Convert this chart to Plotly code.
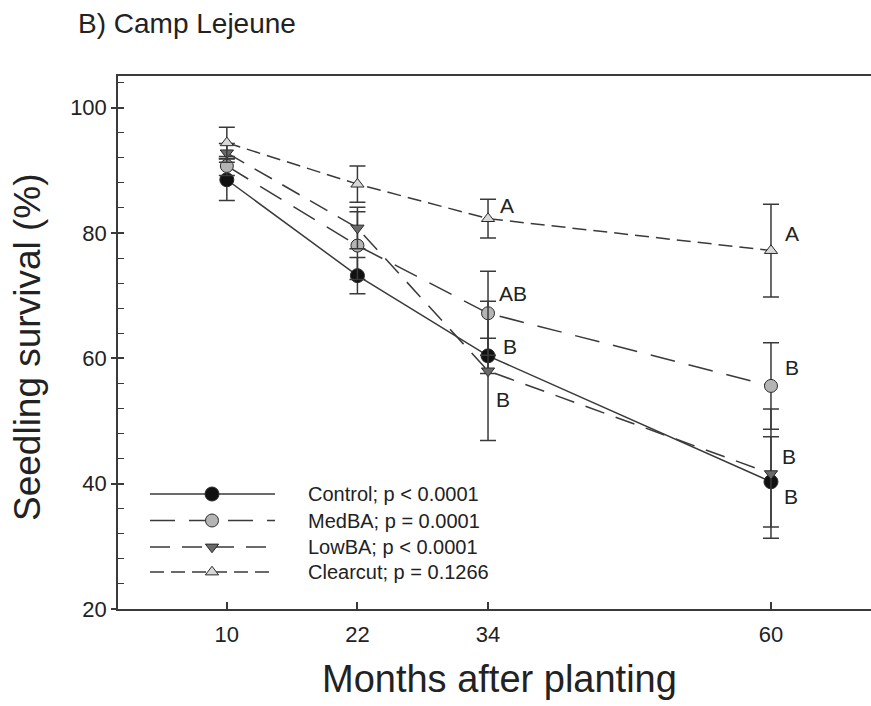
import plotly.graph_objects as go

# Seedling survival (%) by months after planting, per overstory treatment
months = [10, 22, 34, 60]

control = [88.5, 73.2, 60.4, 40.3]
control_se = [3.3, 2.9, 2.8, 7.2]

medba = [90.7, 78.0, 67.2, 55.6]
medba_se = [1.5, 5.4, 6.7, 6.9]

lowba = [92.8, 80.8, 58.0, 41.6]
lowba_se = [1.5, 3.3, 11.1, 10.3]

clearcut = [94.4, 87.8, 82.3, 77.2]
clearcut_se = [2.5, 2.9, 3.1, 7.4]

series_names = ["Control; p < 0.0001", "MedBA; p = 0.0001",
                "LowBA; p < 0.0001", "Clearcut; p = 0.1266"]

# Mean-separation letters: (month, survival level of label, letter)
letters_34 = [(34.9, 84.4, "A"), (34.87, 70.4, "AB"), (35.2, 61.9, "B"), (34.55, 53.4, "B")]
letters_60 = [(61.07, 80.0, "A"), (61.13, 58.5, "B"), (60.83, 44.4, "B"), (60.98, 37.9, "B")]

FONT = "Liberation Sans, Arial, sans-serif"
INK = "#3a3a3a"

# plot area in pixels (used to place paper-referenced titles)
PX_L, PX_R, PX_T, PX_B = 118, 871, 76, 609


def paper_x(px):
    return (px - PX_L) / (PX_R - PX_L)


def paper_y(py):
    return (PX_B - py) / (PX_B - PX_T)


styles = [
    dict(symbol="circle", size=14, fill="#111111", dash="solid"),
    dict(symbol="circle", size=13, fill="#b4b4b4", dash="25px,14px"),
    dict(symbol="triangle-down", size=11.5, fill="#6a6a6a", dash="20px,12px"),
    dict(symbol="triangle-up", size=11.5, fill="#d8d8d8", dash="14px,7px"),
]
values = [control, medba, lowba, clearcut]
errors = [control_se, medba_se, lowba_se, clearcut_se]

fig = go.Figure()

for name, vals, errs, st in zip(series_names, values, errors, styles):
    fig.add_trace(go.Scatter(
        x=months, y=vals, name=name, mode="lines+markers",
        line=dict(color=INK, width=1.5, dash=st["dash"]),
        marker=dict(symbol=st["symbol"], size=st["size"], color=st["fill"],
                    line=dict(color="#2a2a2a", width=1)),
        error_y=dict(type="data", array=errs, visible=True,
                     color=INK, thickness=1.5, width=8),
        cliponaxis=False,
    ))

# helper trace so the overlay tick axis is rendered
fig.add_trace(go.Scatter(x=[None], y=[None], xaxis="x", yaxis="y2",
                         showlegend=False, hoverinfo="skip"))

# Legend drawn on a pixel-unit overlay (x2 / y3)
leg_rows = [494, 520.5, 547, 572]
leg_x0, leg_xm, leg_x1, leg_text_x = 150, 212, 275, 306
for name, st, ry in zip(series_names, styles, leg_rows):
    fig.add_trace(go.Scatter(
        x=[leg_x0, leg_x1], y=[ry, ry], mode="lines", xaxis="x2", yaxis="y3",
        line=dict(color=INK, width=1.5, dash=st["dash"]),
        showlegend=False, hoverinfo="skip"))
    fig.add_trace(go.Scatter(
        x=[leg_xm], y=[ry], mode="markers", xaxis="x2", yaxis="y3",
        marker=dict(symbol=st["symbol"], size=st["size"], color=st["fill"],
                    line=dict(color="#2a2a2a", width=1)),
        showlegend=False, hoverinfo="skip"))

annotations = []
for name, ry in zip(series_names, leg_rows):
    annotations.append(dict(x=leg_text_x, y=ry, xref="x2", yref="y3", text=name,
                            xanchor="left", yanchor="middle", showarrow=False,
                            font=dict(family=FONT, size=20, color="#222")))

for mx, lv, txt in letters_34 + letters_60:
    annotations.append(dict(x=mx, y=lv, xref="x", yref="y", text=txt,
                            xanchor="left", yanchor="middle", showarrow=False,
                            font=dict(family=FONT, size=21, color="#222")))

# Panel title and axis titles
annotations.append(dict(x=paper_x(76), y=paper_y(24), xref="paper", yref="paper",
                        text="B) Camp Lejeune", xanchor="left", yanchor="middle",
                        showarrow=False, font=dict(family=FONT, size=28, color="#222")))
annotations.append(dict(x=paper_x(499), y=paper_y(679), xref="paper", yref="paper",
                        text="Months after planting", xanchor="center", yanchor="middle",
                        showarrow=False, font=dict(family=FONT, size=38, color="#222")))
annotations.append(dict(x=paper_x(27), y=paper_y(347), xref="paper", yref="paper",
                        text="Seedling survival (%)", textangle=-90,
                        xanchor="center", yanchor="middle", showarrow=False,
                        font=dict(family=FONT, size=37, color="#222")))

fig.update_layout(
    width=871, height=706,
    margin=dict(l=PX_L, r=871 - PX_R, t=PX_T, b=706 - PX_B),
    plot_bgcolor="white", paper_bgcolor="white",
    showlegend=False,
    font=dict(family=FONT, color="#222"),
    annotations=annotations,
    xaxis=dict(range=[0, 69.19], tickvals=months, ticks="inside", ticklen=7,
               tickwidth=1.5, tickcolor=INK, showline=True, linecolor=INK,
               linewidth=1.5, mirror=True, showgrid=False, zeroline=False,
               tickfont=dict(family=FONT, size=22, color="#222"),
               ticklabelstandoff=5),
    yaxis=dict(range=[20, 105.06], tickvals=[20, 40, 60, 80, 100], ticks="outside",
               ticklen=5, tickwidth=1.5, tickcolor=INK, showline=True,
               linecolor=INK, linewidth=1.5, showgrid=False, zeroline=False,
               tickfont=dict(family=FONT, size=22, color="#222"),
               minor=dict(dtick=4, tick0=20, ticks="inside", ticklen=6,
                          tickwidth=1.2, tickcolor=INK, showgrid=False)),
    yaxis2=dict(overlaying="y", range=[20, 105.06], tickvals=[20, 40, 60, 80, 100],
                ticks="inside", ticklen=6, tickwidth=1.5, tickcolor=INK,
                showticklabels=False, showline=False, showgrid=False,
                zeroline=False, side="left", anchor="x"),
    xaxis2=dict(overlaying="x", range=[PX_L, PX_R], visible=False, anchor="y3"),
    yaxis3=dict(overlaying="y", range=[PX_B, PX_T], visible=False, anchor="x2"),
)

fig.write_html("out.html")
